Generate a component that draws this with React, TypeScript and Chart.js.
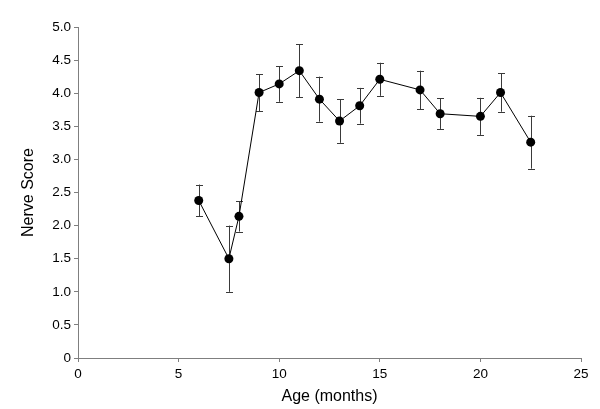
import React, { useEffect, useRef } from "react";
import { Chart, registerables } from "chart.js";

Chart.register(...registerables);

const ages = [6, 7.5, 8, 9, 10, 11, 12, 13, 14, 15, 17, 18, 20, 21, 22.5];
const scores = [2.38, 1.5, 2.14, 4.01, 4.14, 4.34, 3.91, 3.58, 3.81, 4.21, 4.05, 3.69, 3.65, 4.01, 3.26];
const errors = [0.24, 0.5, 0.23, 0.28, 0.27, 0.4, 0.34, 0.33, 0.27, 0.25, 0.29, 0.23, 0.28, 0.29, 0.4];

const xTitle = "Age (months)";
const yTitle = "Nerve Score";

const errorBarPlugin = {
  id: "errorBars",
  beforeDatasetsDraw(chart: any) {
    const { ctx, scales } = chart;
    const xs = scales.x;
    const ys = scales.y;
    ctx.save();
    ctx.strokeStyle = "#3a3a3a";
    ctx.lineWidth = 1;
    const cap = 3.5;
    ages.forEach((a, i) => {
      const px = Math.round(xs.getPixelForValue(a)) + 0.5;
      const top = ys.getPixelForValue(scores[i] + errors[i]);
      const bot = ys.getPixelForValue(scores[i] - errors[i]);
      ctx.beginPath();
      ctx.moveTo(px, top);
      ctx.lineTo(px, bot);
      ctx.moveTo(px - cap, Math.round(top) + 0.5);
      ctx.lineTo(px + cap, Math.round(top) + 0.5);
      ctx.moveTo(px - cap, Math.round(bot) + 0.5);
      ctx.lineTo(px + cap, Math.round(bot) + 0.5);
      ctx.stroke();
    });
    ctx.restore();
  },
};

export default function App() {
  const ref = useRef<HTMLCanvasElement>(null);
  useEffect(() => {
    if (!ref.current) return;
    const axisColor = "#7f7f7f";
    const family = "Liberation Sans, Arial, sans-serif";
    const chart = new Chart(ref.current, {
      type: "scatter",
      data: {
        datasets: [
          {
            data: ages.map((a, i) => ({ x: a, y: scores[i] })),
            showLine: true,
            borderColor: "#000",
            borderWidth: 1,
            backgroundColor: "#000",
            pointBackgroundColor: "#000",
            pointBorderColor: "#000",
            pointBorderWidth: 0,
            pointRadius: 4.5,
            pointHoverRadius: 4.5,
          },
        ],
      },
      options: {
        animation: false,
        responsive: false,
        maintainAspectRatio: false,
        events: [],
        layout: { padding: { top: 27, right: 19, left: 0, bottom: 0 } },
        plugins: { legend: { display: false }, tooltip: { enabled: false } },
        scales: {
          x: {
            type: "linear",
            min: 0,
            max: 25,
            afterFit: (s: any) => {
              s.height = 51;
            },
            ticks: {
              stepSize: 5,
              color: "#000",
              padding: 4,
              maxRotation: 0,
              font: { family, size: 13.5 },
            },
            grid: { display: true, drawOnChartArea: false, drawTicks: true, tickLength: 4, color: axisColor },
            border: { display: true, color: axisColor, width: 1 },
            title: {
              display: true,
              text: xTitle,
              color: "#000",
              padding: { top: 0, bottom: 2.5 },
              font: { family, size: 16 },
            },
          },
          y: {
            type: "linear",
            min: 0,
            max: 5,
            afterFit: (s: any) => {
              s.width = 78;
            },
            ticks: {
              stepSize: 0.5,
              color: "#000",
              padding: 3,
              font: { family, size: 13.5 },
              callback: (v: any) => (Number(v) === 0 ? "0" : Number(v).toFixed(1)),
            },
            grid: { display: true, drawOnChartArea: false, drawTicks: true, tickLength: 4, color: axisColor },
            border: { display: true, color: axisColor, width: 1 },
            title: {
              display: true,
              text: yTitle,
              color: "#000",
              padding: { top: 18.5, bottom: 0 },
              font: { family, size: 16 },
            },
          },
        },
      },
      plugins: [errorBarPlugin],
    } as any);
    return () => chart.destroy();
  }, []);
  return (
    <div style={{ position: "absolute", left: 0, top: 0, width: 600, height: 409, background: "#fff" }}>
      <canvas ref={ref} width={600} height={409} style={{ width: 600, height: 409, display: "block" }} />
    </div>
  );
}
